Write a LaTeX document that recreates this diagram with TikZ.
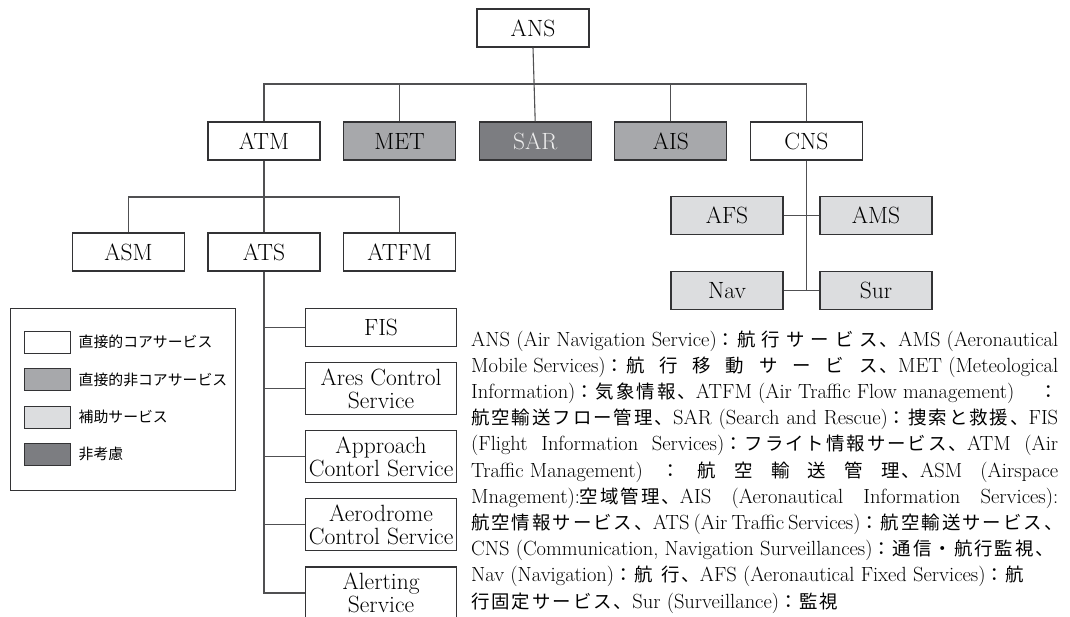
\documentclass[tikz,border=0pt]{standalone}
\usepackage{fontspec}
\newfontfamily\jp{Noto Sans CJK JP}[Scale=0.9, LetterSpace=10.5]
\newfontfamily\jpkey{Noto Sans CJK JP}[Scale=0.9]
\usepackage{tikz}
\usetikzlibrary{positioning}
\definecolor{edge}{HTML}{333335}
\definecolor{wire}{HTML}{505052}
\definecolor{corebg}{HTML}{FFFFFF}
\definecolor{noncorebg}{HTML}{A7A8AB}
\definecolor{auxbg}{HTML}{DCDDDF}
\definecolor{ignbg}{HTML}{7C7D81}
\definecolor{igntext}{HTML}{EDEDED}
\newcommand{\J}[1]{{\jp #1}}
\newcommand{\jsp}{\hskip 0pt plus 1fil\relax}
\newcommand{\fullline}[1]{\hbox to 587pt{#1}}
\tikzset{
  svc/.style={
    draw=edge,
    line width=1.1pt,
    minimum width=112pt,
    minimum height=38pt,
    inner sep=0pt,
    align=center,
    font=\fontsize{23.5}{23}\selectfont
  },
  core/.style={svc, fill=corebg},
  noncore/.style={svc, fill=noncorebg},
  aux/.style={svc, fill=auxbg},
  ignored/.style={svc, fill=ignbg, text=igntext},
  atsitem/.style={core, minimum width=151pt, minimum height=52pt},
  link/.style={draw=wire, line width=1.1pt},
  swatch/.style={draw=edge, line width=1pt, minimum width=46pt, minimum height=22pt, inner sep=0pt},
  keytext/.style={anchor=west, inner sep=0pt, font=\fontsize{16.5}{18}\selectfont\jpkey},
  gloss/.style={anchor=base west, inner sep=0pt, font=\fontsize{20.5}{24}\selectfont}
}
\begin{document}
\begin{tikzpicture}[x=1pt, y=-1pt]
  \useasboundingbox (0,0) rectangle (1070,616);

  % top of the tree
  \node[core] (ans) at (533,28) {ANS};
  \node[core] (atm) at (264,141) {ATM};
  \node[noncore, right=22.5pt of atm] (met) {MET};
  \node[ignored, right=22.5pt of met] (sar) {SAR};
  \node[noncore, right=22.5pt of sar] (ais) {AIS};
  \node[core, right=22.5pt of ais] (cns) {CNS};
  \coordinate (bus) at (533,84);
  \draw[link] (ans.south) -- (sar.north);
  \draw[link] (atm.north) |- (bus) -| (cns.north);
  \draw[link] (met.north) -- (met.north |- bus);
  \draw[link] (ais.north) -- (ais.north |- bus);

  % ATM branch
  \node[core] (ats) at (264,252) {ATS};
  \node[core, left=22.5pt of ats] (asm) {ASM};
  \node[core, right=22.5pt of ats] (atfm) {ATFM};
  \coordinate (bus2) at (264,197);
  \draw[link] (atm.south) -- (ats.north);
  \draw[link] (asm.north) |- (bus2) -| (atfm.north);

  % ATS services
  \node[atsitem, minimum height=38pt, anchor=north west] (fis) at (305,308) {FIS};
  \node[atsitem, below=15pt of fis] (acs) {Ares Control\\Service};
  \node[atsitem, below=15pt of acs] (apc) {Approach\\Contorl Service};
  \node[atsitem, below=15pt of apc] (adc) {Aerodrome\\Control Service};
  \node[atsitem, below=15pt of adc] (alrt) {Alerting\\Service};
  \draw[link] (ats.south) |- (alrt.west);
  \foreach \s in {fis, acs, apc, adc}
    \draw[link] (ats.south |- \s.west) -- (\s.west);

  % CNS branch
  \node[aux] (afs) at (727,215.5) {AFS};
  \node[aux] (ams) at (876,215.5) {AMS};
  \node[aux] (nav) at (727,290.5) {Nav};
  \node[aux] (sur) at (876,290.5) {Sur};
  \draw[link] (cns.south) -- (cns.south |- nav.east);
  \draw[link] (afs.east) -- (ams.west);
  \draw[link] (nav.east) -- (sur.west);

  % legend
  \node[draw=edge, line width=1pt, minimum width=225pt, minimum height=182pt, inner sep=0pt, anchor=north west] (legend) at (10,308) {};
  \node[swatch, fill=corebg] (k1) at (47,342) {};
  \node[swatch, fill=noncorebg] (k2) at (47,379.5) {};
  \node[swatch, fill=auxbg] (k3) at (47,417) {};
  \node[swatch, fill=ignbg] (k4) at (47,454) {};
  \node[keytext, right=8pt of k1] (t1) {直接的コアサービス};
  \node[keytext, right=8pt of k2] (t2) {直接的非コアサービス};
  \node[keytext, right=8pt of k3] (t3) {補助サービス};
  \node[keytext, right=8pt of k4] (t4) {非考慮};

  % glossary
  \node[gloss] (g1) at (471,346) {\fullline{ANS (Air Navigation Service)\J{：航\jsp 行\jsp サ\jsp ー\jsp ビ\jsp ス、}AMS (Aeronautical}};
  \node[gloss] (g2) at (471,372.2) {\fullline{Mobile Services)\J{：航\jsp 行\jsp 移\jsp 動\jsp サ\jsp ー\jsp ビ\jsp ス、}MET (Meteological}};
  \node[gloss] (g3) at (471,398.4) {\fullline{Information)\J{：気象情報、}ATFM (Air Traffic Flow management)\jsp\J{：}}};
  \node[gloss] (g4) at (471,424.6) {\fullline{\J{航空輸送フロー管理、}SAR (Search and Rescue)\J{：捜索と救援、}FIS}};
  \node[gloss] (g5) at (471,450.8) {\fullline{(Flight Information Services)\J{：フライト情報サービス、}ATM (Air}};
  \node[gloss] (g6) at (471,477) {\fullline{Traffic Management)\jsp\J{：\jsp 航\jsp 空\jsp 輸\jsp 送\jsp 管\jsp 理、}ASM\jsp (Airspace}};
  \node[gloss] (g7) at (471,503.2) {\fullline{Mnagement):\J{空域管理、}AIS (Aeronautical Information Services):}};
  \node[gloss] (g8) at (471,529.4) {\fullline{\J{航空情報サービス、}ATS (Air Traffic Services)\jsp\J{：航空輸送サービス、}}};
  \node[gloss] (g9) at (471,555.6) {CNS (Communication, Navigation Surveillances)\J{：通信・航行監視、}};
  \node[gloss] (g10) at (471,581.8) {Nav (Navigation)\J{：航\hspace{8pt}行、}AFS (Aeronautical Fixed Services)\J{：航}};
  \node[gloss] (g11) at (471,608) {\J{行固定サービス、}Sur (Surveillance)\J{：監視}};
\end{tikzpicture}
\end{document}
